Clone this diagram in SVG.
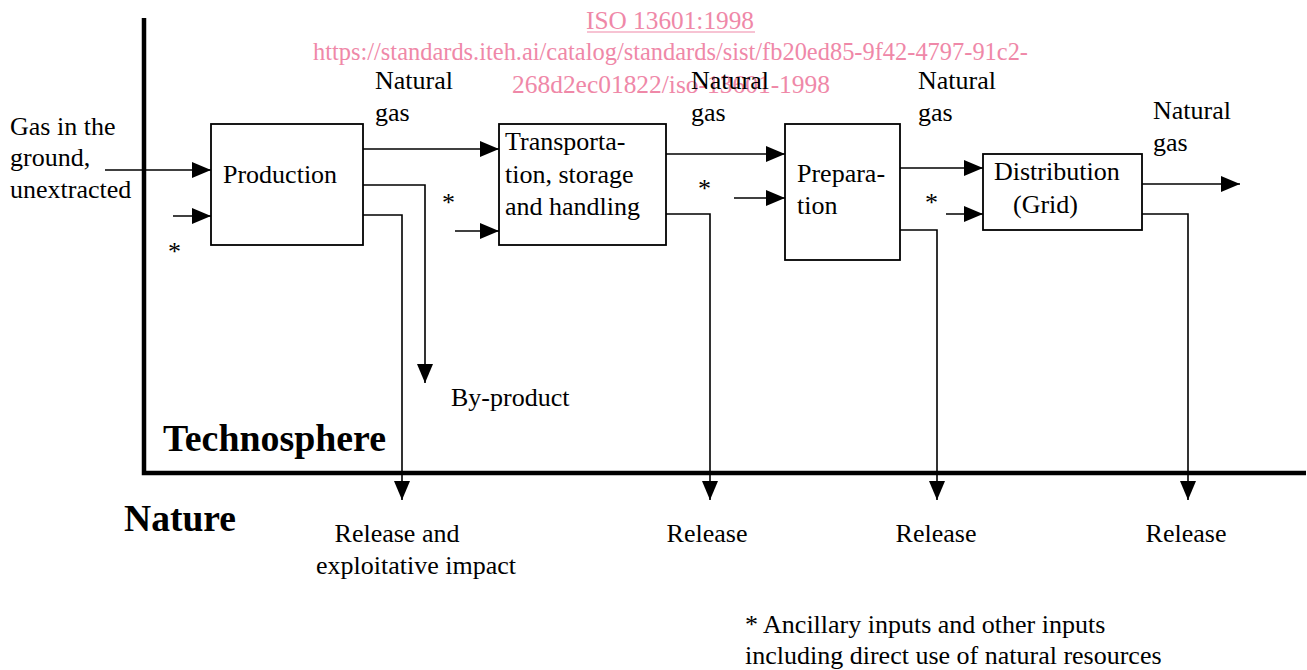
<svg xmlns="http://www.w3.org/2000/svg" width="1307" height="670" viewBox="0 0 1307 670">
<style>
.t{font-family:"Liberation Serif","Times New Roman",serif;font-size:26px;fill:#000}
.b{font-family:"Liberation Serif","Times New Roman",serif;font-size:38px;font-weight:bold;fill:#000}
.w{font-family:"Liberation Serif","Times New Roman",serif;font-size:25px;fill:#ef88a8}
.box{fill:#fff;stroke:#000;stroke-width:1.8}
.c{fill:none;stroke:#000;stroke-width:1.6}
.thick{fill:none;stroke:#000;stroke-width:4.5}
</style>
<defs>
<marker id="ah" markerUnits="userSpaceOnUse" markerWidth="20" markerHeight="18" refX="19" refY="8" orient="auto">
<path d="M0,0 L19,8 L0,16 z" fill="#000"/>
</marker>
</defs>
<rect width="1307" height="670" fill="#fff"/>
<g id="watermark">
<text class="w" x="670" y="29" text-anchor="middle" textLength="168" lengthAdjust="spacingAndGlyphs">ISO 13601:1998</text>
<line x1="587" y1="32" x2="755" y2="32" stroke="#ef88a8" stroke-width="1.2"/>
<text class="w" x="313" y="60" textLength="715" lengthAdjust="spacingAndGlyphs">https://standards.iteh.ai/catalog/standards/sist/fb20ed85-9f42-4797-91c2-</text>
<text class="w" x="512" y="93" textLength="318" lengthAdjust="spacingAndGlyphs">268d2ec01822/iso-13601-1998</text>
</g>
<g id="boundary">
<path class="thick" d="M144,18 V473 H1306"/>
<text class="b" x="163" y="451" textLength="223" lengthAdjust="spacingAndGlyphs">Technosphere</text>
<text class="b" x="124" y="531" textLength="112" lengthAdjust="spacingAndGlyphs">Nature</text>
</g>
<g id="connectors">
<path class="c" d="M105,170 H211" marker-end="url(#ah)"/>
<path class="c" d="M173,216 H211" marker-end="url(#ah)"/>
<path class="c" d="M363,149 H499" marker-end="url(#ah)"/>
<path class="c" d="M455,231 H499" marker-end="url(#ah)"/>
<path class="c" d="M666,154 H785" marker-end="url(#ah)"/>
<path class="c" d="M734,198 H785" marker-end="url(#ah)"/>
<path class="c" d="M900,168 H983" marker-end="url(#ah)"/>
<path class="c" d="M946,214 H983" marker-end="url(#ah)"/>
<path class="c" d="M1142,184 H1240" marker-end="url(#ah)"/>
<path class="c" d="M363,185 H425 V383" marker-end="url(#ah)"/>
<path class="c" d="M363,215 H402 V500" marker-end="url(#ah)"/>
<path class="c" d="M666,214 H710 V500" marker-end="url(#ah)"/>
<path class="c" d="M900,230 H937 V500" marker-end="url(#ah)"/>
<path class="c" d="M1142,214 H1188 V500" marker-end="url(#ah)"/>
</g>
<g id="production">
<rect class="box" x="211" y="124" width="152" height="121"/>
<text class="t" x="223" y="183">Production</text>
</g>
<g id="transportation">
<rect class="box" x="499" y="124" width="167" height="121"/>
<text class="t" x="505" y="150">Transporta-</text>
<text class="t" x="505" y="183">tion, storage</text>
<text class="t" x="505" y="215">and handling</text>
</g>
<g id="preparation">
<rect class="box" x="785" y="124" width="115" height="136"/>
<text class="t" x="797" y="182">Prepara-</text>
<text class="t" x="797" y="214">tion</text>
</g>
<g id="distribution">
<rect class="box" x="983" y="154" width="159" height="76"/>
<text class="t" x="994" y="180">Distribution</text>
<text class="t" x="1013" y="213">(Grid)</text>
</g>
<g id="labels">
<text class="t" x="10" y="135">Gas in the</text>
<text class="t" x="10" y="166">ground,</text>
<text class="t" x="10" y="198">unextracted</text>
<text class="t" x="168" y="260">*</text>
<text class="t" x="442" y="211">*</text>
<text class="t" x="698" y="197">*</text>
<text class="t" x="925" y="211">*</text>
<text class="t" x="375" y="89">Natural</text>
<text class="t" x="375" y="121">gas</text>
<text class="t" x="691" y="89">Natural</text>
<text class="t" x="691" y="121">gas</text>
<text class="t" x="918" y="89">Natural</text>
<text class="t" x="918" y="121">gas</text>
<text class="t" x="1153" y="119">Natural</text>
<text class="t" x="1153" y="151">gas</text>
<text class="t" x="451" y="406">By-product</text>
<text class="t" x="397" y="542" text-anchor="middle">Release and</text>
<text class="t" x="416" y="574" text-anchor="middle">exploitative impact</text>
<text class="t" x="707" y="542" text-anchor="middle">Release</text>
<text class="t" x="936" y="542" text-anchor="middle">Release</text>
<text class="t" x="1186" y="542" text-anchor="middle">Release</text>
<text class="t" x="745" y="633">* Ancillary inputs and other inputs</text>
<text class="t" x="745" y="664">including direct use of natural resources</text>
</g>
</svg>
